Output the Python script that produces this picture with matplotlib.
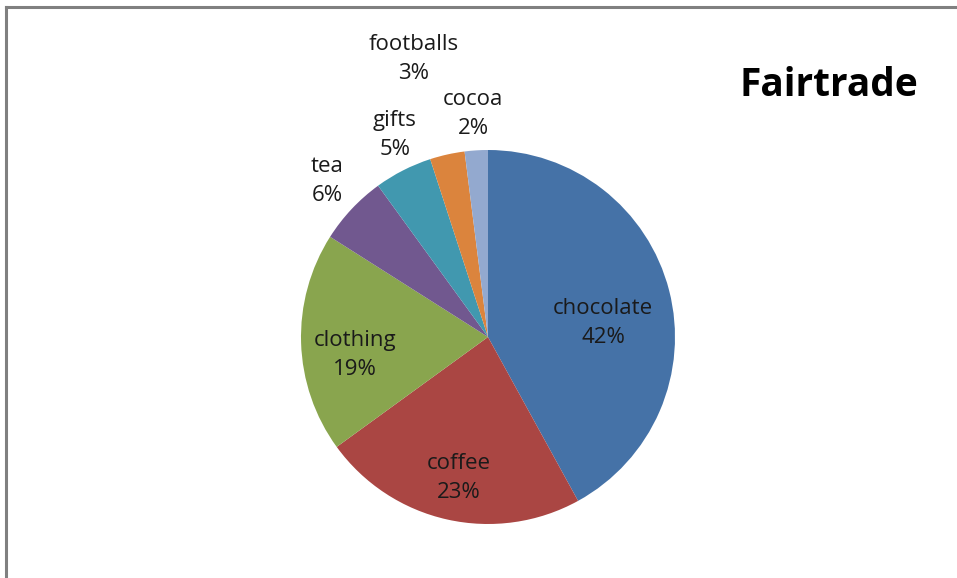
import matplotlib
matplotlib.use("Agg")
import matplotlib.pyplot as plt
from matplotlib.lines import Line2D

categories = ["chocolate", "coffee", "clothing", "tea", "gifts", "footballs", "cocoa"]
shares = [42, 23, 19, 6, 5, 3, 2]
colors = ["#4572A7", "#AA4643", "#89A54E", "#71588F", "#4198AF", "#DB843D", "#93A9CF"]
title = "Fairtrade"

W, H = 957, 578
fig = plt.figure(figsize=(W / 100, H / 100), dpi=100)
ax = fig.add_axes([0, 0, 1, 1])

cx, cy, R = 488, H - 337, 187
ax.pie(shares, colors=colors, startangle=90, counterclock=False,
       center=(cx, cy), radius=R, wedgeprops=dict(linewidth=0))
ax.set_xlim(0, W)
ax.set_ylim(0, H)
ax.set_aspect("auto")
ax.axis("off")

# label centres in pixel offsets from pie centre (x right, y down)
label_offsets = [(115, -14), (-29, 141), (-133, 18), (-161, -156),
                 (-93, -202), (-74, -278), (-15, -223)]
fp = dict(family=["Open Sans", "DejaVu Sans"], fontsize=16, color="#1a1a1a")
for name, val, (dx, dy) in zip(categories, shares, label_offsets):
    ax.text(cx + dx, cy - dy, f"{name}\n{val}%", ha="center", va="center",
            linespacing=1.5, **fp)

ax.text(829, H - 86, title, ha="center", va="center",
        family=["Open Sans", "DejaVu Sans"], fontweight="bold", fontsize=28, color="black")

# chart frame (top and left edges visible)
fig.add_artist(Line2D([6 / W, 1], [1 - 7 / H, 1 - 7 / H], transform=fig.transFigure,
                      color="#808080", linewidth=2.2))
fig.add_artist(Line2D([6 / W, 6 / W], [0, 1 - 7 / H], transform=fig.transFigure,
                      color="#808080", linewidth=2.2))

fig.savefig("out.png", dpi=100, facecolor="white")
